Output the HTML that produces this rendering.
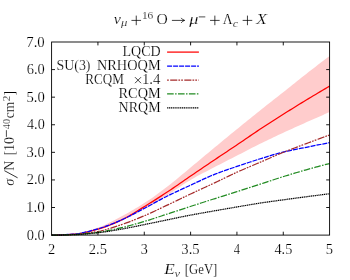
<!DOCTYPE html>
<html><head><meta charset="utf-8"><title>chart</title>
<style>
html,body{margin:0;padding:0;background:#fff;}
body{width:350px;height:280px;overflow:hidden;}
svg{display:block;will-change:transform;}
.t{font-family:"Liberation Serif",serif;fill:#000;stroke:#fff;stroke-width:0.18px;}
.i{font-style:italic;}
</style></head><body>
<svg width="350" height="280" viewBox="0 0 350 280">
<rect x="0" y="0" width="350" height="280" fill="#ffffff"/>
<path d="M51.60,235.10 L53.94,235.08 L56.27,235.03 L58.61,234.94 L60.94,234.83 L63.28,234.68 L65.62,234.52 L67.95,234.34 L70.29,234.14 L72.63,233.93 L74.96,233.70 L77.30,233.41 L79.63,233.01 L81.97,232.52 L84.31,231.95 L86.64,231.31 L88.98,230.61 L91.31,229.87 L93.65,229.10 L95.99,228.31 L98.32,227.52 L100.66,226.65 L102.99,225.69 L105.33,224.64 L107.67,223.53 L110.00,222.36 L112.34,221.15 L114.68,219.91 L117.01,218.66 L119.35,217.41 L121.68,216.17 L124.02,214.93 L126.36,213.66 L128.69,212.38 L131.03,211.06 L133.36,209.72 L135.70,208.36 L138.04,206.97 L140.37,205.54 L142.71,204.09 L145.05,202.60 L147.38,201.07 L149.72,199.50 L152.05,197.88 L154.39,196.24 L156.73,194.55 L159.06,192.85 L161.40,191.11 L163.73,189.36 L166.07,187.59 L168.41,185.80 L170.74,183.97 L173.08,182.10 L175.42,180.20 L177.75,178.27 L180.09,176.32 L182.42,174.36 L184.76,172.40 L187.10,170.43 L189.43,168.48 L191.77,166.55 L194.10,164.61 L196.44,162.66 L198.78,160.71 L201.11,158.76 L203.45,156.80 L205.78,154.85 L208.12,152.90 L210.46,150.95 L212.79,149.01 L215.13,147.08 L217.47,145.15 L219.80,143.22 L222.14,141.30 L224.47,139.37 L226.81,137.45 L229.15,135.54 L231.48,133.62 L233.82,131.71 L236.15,129.81 L238.49,127.90 L240.83,126.00 L243.16,124.09 L245.50,122.19 L247.84,120.29 L250.17,118.40 L252.51,116.51 L254.84,114.63 L257.18,112.75 L259.52,110.88 L261.85,109.02 L264.19,107.17 L266.52,105.33 L268.86,103.50 L271.20,101.67 L273.53,99.85 L275.87,98.02 L278.21,96.19 L280.54,94.36 L282.88,92.51 L285.21,90.66 L287.55,88.79 L289.89,86.92 L292.22,85.04 L294.56,83.16 L296.89,81.29 L299.23,79.42 L301.57,77.56 L303.90,75.71 L306.24,73.88 L308.57,72.06 L310.91,70.25 L313.25,68.45 L315.58,66.65 L317.92,64.87 L320.26,63.09 L322.59,61.32 L324.93,59.56 L327.26,57.81 L329.60,56.07 L329.60,112.07 L327.26,113.08 L324.93,114.10 L322.59,115.13 L320.26,116.15 L317.92,117.18 L315.58,118.21 L313.25,119.24 L310.91,120.28 L308.57,121.32 L306.24,122.36 L303.90,123.40 L301.57,124.45 L299.23,125.50 L296.89,126.54 L294.56,127.60 L292.22,128.65 L289.89,129.71 L287.55,130.78 L285.21,131.86 L282.88,132.94 L280.54,134.02 L278.21,135.12 L275.87,136.21 L273.53,137.31 L271.20,138.42 L268.86,139.54 L266.52,140.66 L264.19,141.79 L261.85,142.93 L259.52,144.08 L257.18,145.25 L254.84,146.42 L252.51,147.62 L250.17,148.81 L247.84,150.02 L245.50,151.23 L243.16,152.44 L240.83,153.65 L238.49,154.85 L236.15,156.05 L233.82,157.24 L231.48,158.43 L229.15,159.62 L226.81,160.81 L224.47,162.00 L222.14,163.19 L219.80,164.39 L217.47,165.59 L215.13,166.80 L212.79,168.02 L210.46,169.24 L208.12,170.45 L205.78,171.65 L203.45,172.87 L201.11,174.10 L198.78,175.34 L196.44,176.61 L194.10,177.91 L191.77,179.25 L189.43,180.63 L187.10,182.07 L184.76,183.57 L182.42,185.11 L180.09,186.67 L177.75,188.25 L175.42,189.84 L173.08,191.41 L170.74,192.97 L168.41,194.48 L166.07,195.96 L163.73,197.44 L161.40,198.91 L159.06,200.38 L156.73,201.83 L154.39,203.27 L152.05,204.68 L149.72,206.07 L147.38,207.42 L145.05,208.74 L142.71,210.02 L140.37,211.28 L138.04,212.53 L135.70,213.75 L133.36,214.95 L131.03,216.13 L128.69,217.27 L126.36,218.38 L124.02,219.46 L121.68,220.50 L119.35,221.51 L117.01,222.53 L114.68,223.53 L112.34,224.51 L110.00,225.46 L107.67,226.38 L105.33,227.25 L102.99,228.06 L100.66,228.81 L98.32,229.48 L95.99,230.10 L93.65,230.72 L91.31,231.32 L88.98,231.91 L86.64,232.45 L84.31,232.95 L81.97,233.39 L79.63,233.77 L77.30,234.06 L74.96,234.26 L72.63,234.40 L70.29,234.53 L67.95,234.65 L65.62,234.76 L63.28,234.86 L60.94,234.94 L58.61,235.01 L56.27,235.06 L53.94,235.09 L51.60,235.10Z" fill="#ffcccc" stroke="none"/>
<path d="M51.60,235.10 L53.94,235.09 L56.27,235.05 L58.61,234.99 L60.94,234.91 L63.28,234.81 L65.62,234.70 L67.95,234.57 L70.29,234.43 L72.63,234.28 L74.96,234.12 L77.30,233.90 L79.63,233.58 L81.97,233.18 L84.31,232.71 L86.64,232.18 L88.98,231.60 L91.31,230.99 L93.65,230.36 L95.99,229.71 L98.32,229.06 L100.66,228.37 L102.99,227.62 L105.33,226.81 L107.67,225.95 L110.00,225.04 L112.34,224.09 L114.68,223.10 L117.01,222.07 L119.35,221.01 L121.68,219.93 L124.02,218.77 L126.36,217.53 L128.69,216.22 L131.03,214.86 L133.36,213.45 L135.70,212.01 L138.04,210.55 L140.37,209.09 L142.71,207.64 L145.05,206.21 L147.38,204.77 L149.72,203.32 L152.05,201.85 L154.39,200.37 L156.73,198.88 L159.06,197.37 L161.40,195.86 L163.73,194.33 L166.07,192.80 L168.41,191.26 L170.74,189.69 L173.08,188.12 L175.42,186.52 L177.75,184.92 L180.09,183.31 L182.42,181.69 L184.76,180.08 L187.10,178.47 L189.43,176.86 L191.77,175.27 L194.10,173.68 L196.44,172.09 L198.78,170.50 L201.11,168.91 L203.45,167.32 L205.78,165.74 L208.12,164.15 L210.46,162.57 L212.79,161.00 L215.13,159.43 L217.47,157.86 L219.80,156.31 L222.14,154.75 L224.47,153.20 L226.81,151.65 L229.15,150.10 L231.48,148.54 L233.82,146.98 L236.15,145.42 L238.49,143.84 L240.83,142.26 L243.16,140.66 L245.50,139.06 L247.84,137.46 L250.17,135.86 L252.51,134.27 L254.84,132.69 L257.18,131.11 L259.52,129.56 L261.85,128.02 L264.19,126.49 L266.52,124.97 L268.86,123.45 L271.20,121.95 L273.53,120.45 L275.87,118.96 L278.21,117.48 L280.54,116.00 L282.88,114.52 L285.21,113.05 L287.55,111.58 L289.89,110.12 L292.22,108.66 L294.56,107.21 L296.89,105.77 L299.23,104.33 L301.57,102.90 L303.90,101.47 L306.24,100.05 L308.57,98.63 L310.91,97.22 L313.25,95.82 L315.58,94.42 L317.92,93.02 L320.26,91.63 L322.59,90.25 L324.93,88.87 L327.26,87.50 L329.60,86.14" fill="none" stroke="#ff0000" stroke-width="1.25"/>
<path d="M51.60,235.10 L53.94,235.09 L56.27,235.04 L58.61,234.97 L60.94,234.88 L63.28,234.77 L65.62,234.64 L67.95,234.49 L70.29,234.33 L72.63,234.16 L74.96,233.98 L77.30,233.74 L79.63,233.39 L81.97,232.97 L84.31,232.47 L86.64,231.92 L88.98,231.32 L91.31,230.68 L93.65,230.02 L95.99,229.36 L98.32,228.70 L100.66,228.00 L102.99,227.25 L105.33,226.44 L107.67,225.59 L110.00,224.70 L112.34,223.78 L114.68,222.82 L117.01,221.84 L119.35,220.85 L121.68,219.84 L124.02,218.78 L126.36,217.67 L128.69,216.52 L131.03,215.33 L133.36,214.11 L135.70,212.88 L138.04,211.63 L140.37,210.39 L142.71,209.16 L145.05,207.94 L147.38,206.70 L149.72,205.45 L152.05,204.18 L154.39,202.91 L156.73,201.64 L159.06,200.37 L161.40,199.13 L163.73,197.90 L166.07,196.70 L168.41,195.53 L170.74,194.39 L173.08,193.26 L175.42,192.16 L177.75,191.07 L180.09,189.99 L182.42,188.91 L184.76,187.84 L187.10,186.78 L189.43,185.71 L191.77,184.63 L194.10,183.54 L196.44,182.44 L198.78,181.34 L201.11,180.25 L203.45,179.17 L205.78,178.10 L208.12,177.06 L210.46,176.05 L212.79,175.08 L215.13,174.15 L217.47,173.25 L219.80,172.37 L222.14,171.52 L224.47,170.69 L226.81,169.87 L229.15,169.07 L231.48,168.27 L233.82,167.47 L236.15,166.68 L238.49,165.88 L240.83,165.09 L243.16,164.30 L245.50,163.52 L247.84,162.75 L250.17,161.98 L252.51,161.22 L254.84,160.47 L257.18,159.74 L259.52,159.01 L261.85,158.28 L264.19,157.56 L266.52,156.83 L268.86,156.11 L271.20,155.40 L273.53,154.71 L275.87,154.03 L278.21,153.38 L280.54,152.75 L282.88,152.16 L285.21,151.60 L287.55,151.07 L289.89,150.56 L292.22,150.07 L294.56,149.59 L296.89,149.13 L299.23,148.67 L301.57,148.21 L303.90,147.75 L306.24,147.28 L308.57,146.81 L310.91,146.34 L313.25,145.87 L315.58,145.41 L317.92,144.95 L320.26,144.49 L322.59,144.04 L324.93,143.58 L327.26,143.13 L329.60,142.69" fill="none" stroke="#0000ff" stroke-width="1.25" stroke-dasharray="5 1"/>
<path d="M51.60,235.10 L53.94,235.09 L56.27,235.05 L58.61,235.00 L60.94,234.93 L63.28,234.84 L65.62,234.74 L67.95,234.63 L70.29,234.51 L72.63,234.39 L74.96,234.26 L77.30,234.11 L79.63,233.93 L81.97,233.71 L84.31,233.46 L86.64,233.19 L88.98,232.89 L91.31,232.56 L93.65,232.21 L95.99,231.84 L98.32,231.45 L100.66,230.99 L102.99,230.45 L105.33,229.84 L107.67,229.17 L110.00,228.46 L112.34,227.70 L114.68,226.92 L117.01,226.13 L119.35,225.34 L121.68,224.56 L124.02,223.76 L126.36,222.92 L128.69,222.06 L131.03,221.17 L133.36,220.26 L135.70,219.33 L138.04,218.38 L140.37,217.42 L142.71,216.45 L145.05,215.46 L147.38,214.44 L149.72,213.40 L152.05,212.33 L154.39,211.24 L156.73,210.13 L159.06,209.02 L161.40,207.90 L163.73,206.79 L166.07,205.67 L168.41,204.57 L170.74,203.47 L173.08,202.36 L175.42,201.24 L177.75,200.12 L180.09,199.00 L182.42,197.88 L184.76,196.77 L187.10,195.65 L189.43,194.55 L191.77,193.45 L194.10,192.36 L196.44,191.27 L198.78,190.19 L201.11,189.11 L203.45,188.03 L205.78,186.96 L208.12,185.87 L210.46,184.79 L212.79,183.70 L215.13,182.60 L217.47,181.48 L219.80,180.36 L222.14,179.22 L224.47,178.09 L226.81,176.96 L229.15,175.84 L231.48,174.73 L233.82,173.63 L236.15,172.56 L238.49,171.51 L240.83,170.47 L243.16,169.46 L245.50,168.46 L247.84,167.46 L250.17,166.47 L252.51,165.49 L254.84,164.51 L257.18,163.52 L259.52,162.52 L261.85,161.52 L264.19,160.51 L266.52,159.49 L268.86,158.47 L271.20,157.45 L273.53,156.43 L275.87,155.43 L278.21,154.43 L280.54,153.46 L282.88,152.50 L285.21,151.56 L287.55,150.64 L289.89,149.74 L292.22,148.84 L294.56,147.96 L296.89,147.08 L299.23,146.20 L301.57,145.33 L303.90,144.46 L306.24,143.59 L308.57,142.71 L310.91,141.84 L313.25,140.97 L315.58,140.11 L317.92,139.24 L320.26,138.38 L322.59,137.52 L324.93,136.67 L327.26,135.81 L329.60,134.96" fill="none" stroke="#a52a2a" stroke-width="1.25" stroke-dasharray="7.1 1.1 1.7 1.1 1.7 1.4" stroke-dashoffset="11.0"/>
<path d="M51.60,235.10 L53.94,235.09 L56.27,235.07 L58.61,235.04 L60.94,234.99 L63.28,234.93 L65.62,234.87 L67.95,234.79 L70.29,234.71 L72.63,234.63 L74.96,234.54 L77.30,234.43 L79.63,234.28 L81.97,234.11 L84.31,233.90 L86.64,233.68 L88.98,233.43 L91.31,233.16 L93.65,232.88 L95.99,232.59 L98.32,232.29 L100.66,231.96 L102.99,231.59 L105.33,231.17 L107.67,230.73 L110.00,230.26 L112.34,229.76 L114.68,229.25 L117.01,228.72 L119.35,228.19 L121.68,227.66 L124.02,227.10 L126.36,226.51 L128.69,225.90 L131.03,225.27 L133.36,224.62 L135.70,223.96 L138.04,223.28 L140.37,222.59 L142.71,221.91 L145.05,221.21 L147.38,220.50 L149.72,219.78 L152.05,219.03 L154.39,218.28 L156.73,217.52 L159.06,216.75 L161.40,215.98 L163.73,215.21 L166.07,214.44 L168.41,213.68 L170.74,212.92 L173.08,212.15 L175.42,211.39 L177.75,210.62 L180.09,209.85 L182.42,209.08 L184.76,208.32 L187.10,207.55 L189.43,206.79 L191.77,206.03 L194.10,205.28 L196.44,204.52 L198.78,203.77 L201.11,203.01 L203.45,202.26 L205.78,201.51 L208.12,200.77 L210.46,200.02 L212.79,199.27 L215.13,198.53 L217.47,197.79 L219.80,197.05 L222.14,196.32 L224.47,195.58 L226.81,194.85 L229.15,194.11 L231.48,193.38 L233.82,192.64 L236.15,191.90 L238.49,191.16 L240.83,190.41 L243.16,189.66 L245.50,188.91 L247.84,188.16 L250.17,187.41 L252.51,186.66 L254.84,185.91 L257.18,185.15 L259.52,184.39 L261.85,183.63 L264.19,182.86 L266.52,182.09 L268.86,181.31 L271.20,180.54 L273.53,179.76 L275.87,178.99 L278.21,178.23 L280.54,177.48 L282.88,176.74 L285.21,176.01 L287.55,175.29 L289.89,174.58 L292.22,173.87 L294.56,173.17 L296.89,172.48 L299.23,171.79 L301.57,171.11 L303.90,170.44 L306.24,169.78 L308.57,169.12 L310.91,168.47 L313.25,167.83 L315.58,167.19 L317.92,166.56 L320.26,165.94 L322.59,165.32 L324.93,164.71 L327.26,164.11 L329.60,163.52" fill="none" stroke="#228b22" stroke-width="1.25" stroke-dasharray="6.6 1.4 1.5 1.4"/>
<path d="M51.60,235.10 L53.94,235.09 L56.27,235.08 L58.61,235.05 L60.94,235.02 L63.28,234.98 L65.62,234.93 L67.95,234.87 L70.29,234.81 L72.63,234.75 L74.96,234.68 L77.30,234.59 L79.63,234.46 L81.97,234.31 L84.31,234.13 L86.64,233.92 L88.98,233.70 L91.31,233.46 L93.65,233.22 L95.99,232.97 L98.32,232.71 L100.66,232.44 L102.99,232.13 L105.33,231.80 L107.67,231.44 L110.00,231.07 L112.34,230.68 L114.68,230.28 L117.01,229.88 L119.35,229.47 L121.68,229.07 L124.02,228.65 L126.36,228.21 L128.69,227.77 L131.03,227.31 L133.36,226.84 L135.70,226.37 L138.04,225.89 L140.37,225.41 L142.71,224.93 L145.05,224.46 L147.38,223.98 L149.72,223.50 L152.05,223.01 L154.39,222.52 L156.73,222.03 L159.06,221.54 L161.40,221.04 L163.73,220.56 L166.07,220.07 L168.41,219.59 L170.74,219.11 L173.08,218.62 L175.42,218.14 L177.75,217.66 L180.09,217.18 L182.42,216.71 L184.76,216.24 L187.10,215.78 L189.43,215.32 L191.77,214.88 L194.10,214.44 L196.44,214.02 L198.78,213.60 L201.11,213.18 L203.45,212.77 L205.78,212.36 L208.12,211.95 L210.46,211.54 L212.79,211.13 L215.13,210.72 L217.47,210.31 L219.80,209.91 L222.14,209.50 L224.47,209.10 L226.81,208.69 L229.15,208.29 L231.48,207.89 L233.82,207.49 L236.15,207.09 L238.49,206.70 L240.83,206.30 L243.16,205.90 L245.50,205.50 L247.84,205.10 L250.17,204.71 L252.51,204.32 L254.84,203.93 L257.18,203.56 L259.52,203.19 L261.85,202.83 L264.19,202.48 L266.52,202.14 L268.86,201.80 L271.20,201.46 L273.53,201.13 L275.87,200.81 L278.21,200.48 L280.54,200.16 L282.88,199.84 L285.21,199.53 L287.55,199.21 L289.89,198.90 L292.22,198.60 L294.56,198.29 L296.89,197.99 L299.23,197.69 L301.57,197.39 L303.90,197.09 L306.24,196.78 L308.57,196.48 L310.91,196.17 L313.25,195.86 L315.58,195.56 L317.92,195.25 L320.26,194.95 L322.59,194.64 L324.93,194.33 L327.26,194.03 L329.60,193.72" fill="none" stroke="#000000" stroke-width="1.25" stroke-dasharray="1.25 0.6"/>
<path d="M167.1,52.1 L198.9,52.1" fill="none" stroke="#ff0000" stroke-width="1.25"/>
<path d="M167.1,66.0 L198.9,66.0" fill="none" stroke="#0000ff" stroke-width="1.25" stroke-dasharray="5 1"/>
<path d="M167.1,80.0 L198.9,80.0" fill="none" stroke="#a52a2a" stroke-width="1.25" stroke-dasharray="7.1 1.1 1.7 1.1 1.7 1.4" stroke-dashoffset="11.0"/>
<path d="M167.1,93.9 L198.9,93.9" fill="none" stroke="#228b22" stroke-width="1.25" stroke-dasharray="6.6 1.4 1.5 1.4"/>
<path d="M167.1,107.9 L198.9,107.9" fill="none" stroke="#000000" stroke-width="1.25" stroke-dasharray="1.25 0.6"/>
<path d="M135.0,77.2 L141.0,83.2 M135.0,83.2 L141.0,77.2" stroke="#000" stroke-width="0.75" fill="none"/>
<rect x="51.6" y="42.0" width="278.0" height="193.1" fill="none" stroke="#000" stroke-width="0.9"/>
<path d="M97.93,235.1 v-3.4 M97.93,42.0 v3.4" stroke="#000" stroke-width="0.9" fill="none"/>
<path d="M144.27,235.1 v-3.4 M144.27,42.0 v3.4" stroke="#000" stroke-width="0.9" fill="none"/>
<path d="M190.60,235.1 v-3.4 M190.60,42.0 v3.4" stroke="#000" stroke-width="0.9" fill="none"/>
<path d="M236.93,235.1 v-3.4 M236.93,42.0 v3.4" stroke="#000" stroke-width="0.9" fill="none"/>
<path d="M283.27,235.1 v-3.4 M283.27,42.0 v3.4" stroke="#000" stroke-width="0.9" fill="none"/>
<path d="M51.6,207.51 h3.4 M329.6,207.51 h-3.4" stroke="#000" stroke-width="0.9" fill="none"/>
<path d="M51.6,179.93 h3.4 M329.6,179.93 h-3.4" stroke="#000" stroke-width="0.9" fill="none"/>
<path d="M51.6,152.34 h3.4 M329.6,152.34 h-3.4" stroke="#000" stroke-width="0.9" fill="none"/>
<path d="M51.6,124.76 h3.4 M329.6,124.76 h-3.4" stroke="#000" stroke-width="0.9" fill="none"/>
<path d="M51.6,97.17 h3.4 M329.6,97.17 h-3.4" stroke="#000" stroke-width="0.9" fill="none"/>
<path d="M51.6,69.59 h3.4 M329.6,69.59 h-3.4" stroke="#000" stroke-width="0.9" fill="none"/>
<path d="M131.45,20.4 H141.05 M136.25,15.599999999999998 V25.2" stroke="#000" stroke-width="0.75" fill="none"/>
<path d="M210.04999999999998,20.4 H219.65 M214.85,15.599999999999998 V25.2" stroke="#000" stroke-width="0.75" fill="none"/>
<path d="M242.64999999999998,20.4 H252.25 M247.45,15.599999999999998 V25.2" stroke="#000" stroke-width="0.75" fill="none"/>
<path d="M171.9,20.4 H184.3 M181.2,17.9 Q182.4,19.9 184.7,20.4 Q182.4,20.9 181.2,22.9" stroke="#000" stroke-width="0.75" fill="none"/>
<path d="M198.8,16.9 H205.3" stroke="#000" stroke-width="0.7" fill="none"/>
<path d="M17.6,177.8 L4.3,170.6" stroke="#000" stroke-width="0.8" fill="none"/>
<path d="M6.4,136.9 V130.2" stroke="#000" stroke-width="0.7" fill="none"/>
<text transform="matrix(0.9912 0 0 1 122.48 55.90)" class="t" font-size="14.2">LQCD</text>
<text transform="matrix(0.9823 0 0 1 56.42 69.80)" class="t" font-size="14.2">SU(3)</text>
<text transform="matrix(1.0097 0 0 1 96.97 69.80)" class="t" font-size="14.2">NRHOQM</text>
<text transform="matrix(0.9243 0 0 1 85.21 83.80)" class="t" font-size="14.2">RCQM</text>
<text transform="matrix(1.0440 0 0 1 141.97 83.80)" class="t" font-size="14.2">1.4</text>
<text transform="matrix(1.0074 0 0 1 118.57 97.70)" class="t" font-size="14.2">RCQM</text>
<text transform="matrix(0.9869 0 0 1 118.58 111.70)" class="t" font-size="14.2">NRQM</text>
<text transform="matrix(1.0211 0 0 1 48.12 254.40)" class="t" font-size="14.2">2</text>
<text transform="matrix(1.0232 0 0 1 88.85 254.40)" class="t" font-size="14.2">2.5</text>
<text transform="matrix(0.9962 0 0 1 140.66 254.40)" class="t" font-size="14.2">3</text>
<text transform="matrix(1.0321 0 0 1 181.37 254.40)" class="t" font-size="14.2">3.5</text>
<text transform="matrix(0.8879 0 0 1 233.78 254.40)" class="t" font-size="14.2">4</text>
<text transform="matrix(1.0060 0 0 1 274.48 254.40)" class="t" font-size="14.2">4.5</text>
<text transform="matrix(1.0211 0 0 1 325.83 254.40)" class="t" font-size="14.2">5</text>
<text transform="matrix(1.0172 0 0 1 26.72 239.60)" class="t" font-size="14.2">0.0</text>
<text transform="matrix(1.0626 0 0 1 25.94 212.01)" class="t" font-size="14.2">1.0</text>
<text transform="matrix(1.0172 0 0 1 26.72 184.43)" class="t" font-size="14.2">2.0</text>
<text transform="matrix(1.0260 0 0 1 26.57 156.84)" class="t" font-size="14.2">3.0</text>
<text transform="matrix(1.0001 0 0 1 27.02 129.26)" class="t" font-size="14.2">4.0</text>
<text transform="matrix(1.0349 0 0 1 26.42 101.67)" class="t" font-size="14.2">5.0</text>
<text transform="matrix(1.0172 0 0 1 26.72 74.09)" class="t" font-size="14.2">6.0</text>
<text transform="matrix(1.0440 0 0 1 26.26 46.50)" class="t" font-size="14.2">7.0</text>
<text transform="matrix(1.1395 0 0 1 113.68 24.00)" class="t i" font-size="14">ν</text>
<text transform="matrix(1.2766 0 0 1 121.10 26.40)" class="t i" font-size="10">μ</text>
<text transform="matrix(1.1364 0 0 1 141.88 19.20)" class="t" font-size="10">16</text>
<text transform="matrix(1.1004 0 0 1 156.47 24.00)" class="t" font-size="14.2">O</text>
<text transform="matrix(1.3070 0 0 1 189.30 24.00)" class="t i" font-size="14">μ</text>
<text transform="matrix(0.9557 0 0 1 222.76 24.00)" class="t" font-size="14.2">Λ</text>
<text transform="matrix(1.2250 0 0 1 232.63 27.40)" class="t i" font-size="10">c</text>
<text transform="matrix(1.2298 0 0 1 256.22 24.00)" class="t i" font-size="14.2">X</text>
<text transform="matrix(1.2089 0 0 1 164.17 273.60)" class="t i" font-size="14.2">E</text>
<text transform="matrix(1.2619 0 0 1 174.45 276.80)" class="t i" font-size="10">ν</text>
<text transform="matrix(0.8971 0 0 1 184.81 273.60)" class="t" font-size="14.2">[GeV]</text>
<text transform="matrix(0 -1.0496 1 0 14.40 185.74)" class="t i" font-size="14">σ</text>
<text transform="matrix(0 -0.9775 1 0 14.40 170.72)" class="t" font-size="14.2">N</text>
<text transform="matrix(0 -0.8879 1 0 14.40 155.18)" class="t" font-size="14.2">[</text>
<text transform="matrix(0 -0.9794 1 0 14.40 150.95)" class="t" font-size="14.2">10</text>
<text transform="matrix(0 -1.0213 1 0 10.20 129.20)" class="t" font-size="10">40</text>
<text transform="matrix(0 -0.9585 1 0 14.40 118.14)" class="t" font-size="14">cm</text>
<text transform="matrix(0 -1.2000 1 0 10.20 101.38)" class="t" font-size="10">2</text>
<text transform="matrix(0 -0.9603 1 0 14.40 95.45)" class="t" font-size="14.2">]</text>
</svg>
</body></html>
